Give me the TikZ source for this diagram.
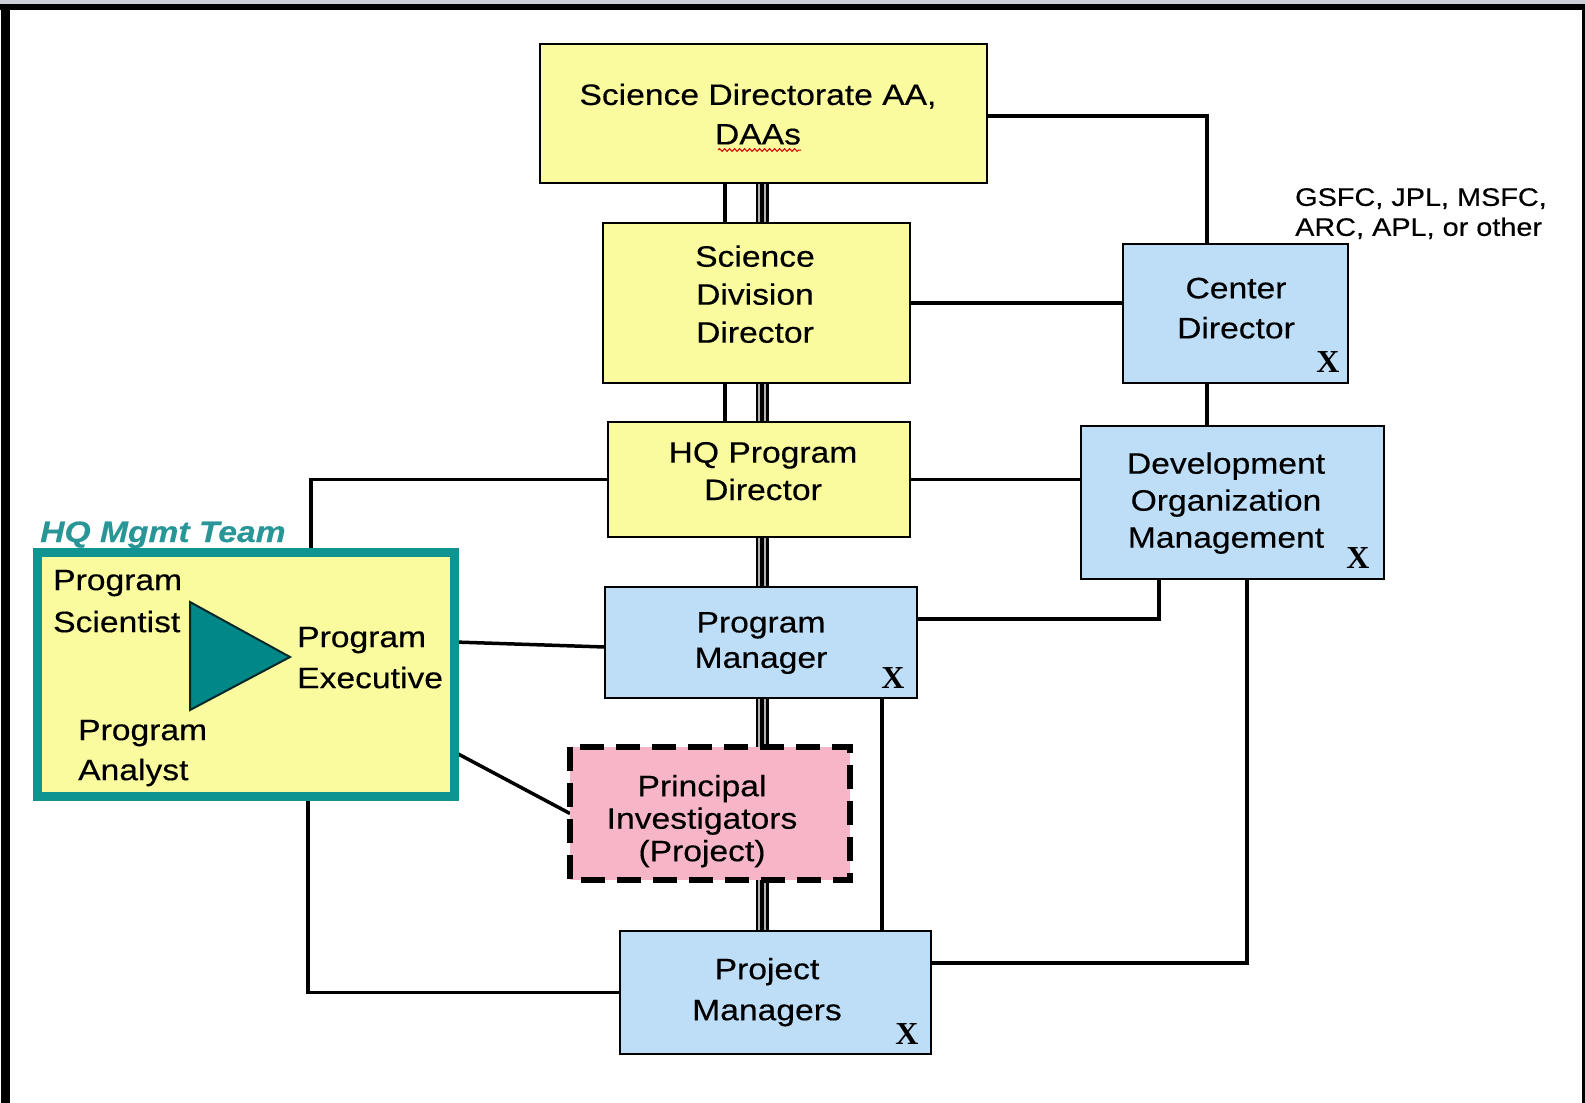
\documentclass[tikz,border=0pt]{standalone}
\usepackage{fontspec}
\setmainfont{Liberation Sans}[FakeStretch=1.14, FakeBold=0.35]
\newfontfamily\xfont{Liberation Serif}
\usetikzlibrary{decorations.pathmorphing}
\definecolor{boxyellow}{RGB}{250,250,158}
\definecolor{boxblue}{RGB}{190,222,248}
\definecolor{boxpink}{RGB}{246,182,200}
\definecolor{tealbox}{RGB}{16,148,146}
\definecolor{tealtri}{RGB}{0,135,135}
\definecolor{tealtxt}{RGB}{40,150,150}
\definecolor{topgray}{RGB}{205,210,216}
\begin{document}
\begin{tikzpicture}[x=1pt,y=-1pt,
  box/.style={draw=black, line width=2pt, rectangle, inner sep=0pt},
  ybox/.style={box, fill=boxyellow},
  bbox/.style={box, fill=boxblue},
  txt/.style={font=\fontsize{29.5}{#1}\selectfont, align=center, text depth=0pt, inner sep=0pt},
  ltxt/.style={font=\fontsize{29.5}{#1}\selectfont, align=left, text depth=0pt, inner sep=0pt, anchor=west},
  xmark/.style={font=\xfont\bfseries\fontsize{32}{32}\selectfont, text depth=0pt, inner sep=0pt},
  conn/.style={draw=black, line width=3.5pt},
  triple/.style={draw=black, line width=2.5pt, double=white!70!black, double distance=8pt},
  triplemid/.style={draw=black, line width=4.5pt}
]
\useasboundingbox (0,0) rectangle (1585,1103);
\fill[white] (0,0) rectangle (1585,1103);
\fill[topgray] (0,0) rectangle (1585,4);
\fill[black] (0,4) rectangle (1585,10);
\fill[black] (1,4) rectangle (10,1103);
\fill[black] (1582,4) rectangle (1585,1103);

% helper coordinates
\coordinate (xs) at (725,0);
\coordinate (xt) at (762,0);
\coordinate (xcd) at (1207,0);
\coordinate (xhq) at (311,0);
\coordinate (xhqb) at (308,0);
\coordinate (xpmd) at (882,0);
\coordinate (xd1) at (1159,0);
\coordinate (xd2) at (1247,0);
\coordinate (ypm) at (0,619);
\coordinate (ypj) at (0,963);
\coordinate (yh1) at (0,642);
\coordinate (yp1) at (0,647);
\coordinate (yh2) at (0,752);
\coordinate (ya) at (0,116);

% boxes (geometry)
\path
 node[ybox, minimum width=445pt, minimum height=137pt] (sdaa) at (763.5,113.5) {}
 node[ybox, minimum width=305pt, minimum height=158pt] (sdd) at (756.5,303) {}
 node[ybox, minimum width=300pt, minimum height=113pt] (hqpd) at (759,479.5) {}
 node[bbox, minimum width=310pt, minimum height=109pt] (pm) at (761,642.5) {}
 node[box, draw=none, minimum width=278pt, minimum height=131pt] (pi) at (710,813.5) {}
 node[bbox, minimum width=309pt, minimum height=121pt] (pjm) at (775.5,992.5) {}
 node[bbox, minimum width=223pt, minimum height=137pt] (cd) at (1235.5,313.5) {}
 node[bbox, minimum width=301pt, minimum height=151pt] (dom) at (1232.5,502.5) {}
 node[box, draw=none, minimum width=415pt, minimum height=242pt] (hq) at (246,674.5) {};

% connectors
\draw[conn] (sdaa.east |- ya) -| (cd.north -| xcd);
\draw[conn] (sdaa.south -| xs) -- (sdd.north -| xs);
\draw[conn] (sdd.south -| xs) -- (hqpd.north -| xs);
\draw[conn] (sdd.east) -- (sdd.east -| cd.west);
\draw[conn] (cd.south -| xcd) -- (dom.north -| xcd);
\draw[conn] (hqpd.east) -- (hqpd.east -| dom.west);
\draw[conn] (hqpd.west) -| (hq.north -| xhq);
\draw[conn] (hq.east |- yh1) -- (pm.west |- yp1);
\draw[conn] (hq.east |- yh2) -- (pi.west);
\draw[conn] (hq.south -| xhqb) |- (pjm.west);
\draw[conn] (pm.east |- ypm) -| (dom.south -| xd1);
\draw[conn] (pm.south -| xpmd) -- (pjm.north -| xpmd);
\draw[conn] (pjm.east |- ypj) -| (dom.south -| xd2);
\foreach \a/\b in {sdaa/sdd, sdd/hqpd, hqpd/pm, pm/pi, pi/pjm}{
  \draw[triple] (\a.south -| xt) -- (\b.north -| xt);
  \draw[triplemid] (\a.south -| xt) -- (\b.north -| xt);
}

% redraw boxes on top
\foreach \n in {sdaa,sdd,hqpd}{\draw[line width=2pt, fill=boxyellow] (\n.north west) rectangle (\n.south east);}
\foreach \n in {pm,pjm,cd,dom}{\draw[line width=2pt, fill=boxblue] (\n.north west) rectangle (\n.south east);}
\draw[line width=6pt, fill=boxpink, dash pattern=on 24pt off 12pt] (pi.north west) rectangle (pi.south east);
\draw[line width=9pt, draw=tealbox, fill=boxyellow] (hq.north west) rectangle (hq.south east);

% texts
\node[txt=39.5] (sdaa-t) at (758,114) {Science Directorate AA,\\DAAs};
\draw[red!85!black, line width=1pt, decorate, decoration={snake, segment length=5pt, amplitude=1.4pt}] (718,150) -- (801,150);
\node[txt=38] (sdd-t) at (755,294) {Science\\Division\\Director};
\node[txt=37.4] (hqpd-t) at (763,471) {HQ Program\\Director};
\node[txt=35.4] (pm-t) at (761,640) {Program\\Manager};
\node[txt=32.5] (pi-t) at (702,818) {Principal\\Investigators\\(Project)};
\node[txt=41] (pjm-t) at (767,989) {Project\\Managers};
\node[txt=40] (cd-t) at (1236,308) {Center\\Director};
\node[txt=37] (dom-t) at (1226,500) {Development\\Organization\\Management};
\node[font=\fontsize{25.3}{30}\selectfont, align=left, inner sep=0pt, text depth=0pt, anchor=west] (gsfc) at (1295,212) {GSFC, JPL, MSFC,\\ARC, APL, or other};

\node[font=\bfseries\itshape\fontsize{29.5}{29.5}\selectfont, text=tealtxt, inner sep=0pt, anchor=base west] (hqlab) at (40,542) {HQ Mgmt Team};
\draw[fill=tealtri, draw=black!70!tealtri, line width=2pt] (190,602) -- (290,657) -- (190,710) -- cycle;
\node[ltxt=42] (ps) at (53,601) {Program\\Scientist};
\node[ltxt=41] (pe) at (297,657.5) {Program\\Executive};
\node[ltxt=40] (pa) at (78,750) {Program\\Analyst};

% X marks
\node[xmark] (x1) at (1328,362) {X};
\node[xmark] (x2) at (1358,558) {X};
\node[xmark] (x3) at (893,678) {X};
\node[xmark] (x4) at (907,1034) {X};
\end{tikzpicture}
\end{document}
